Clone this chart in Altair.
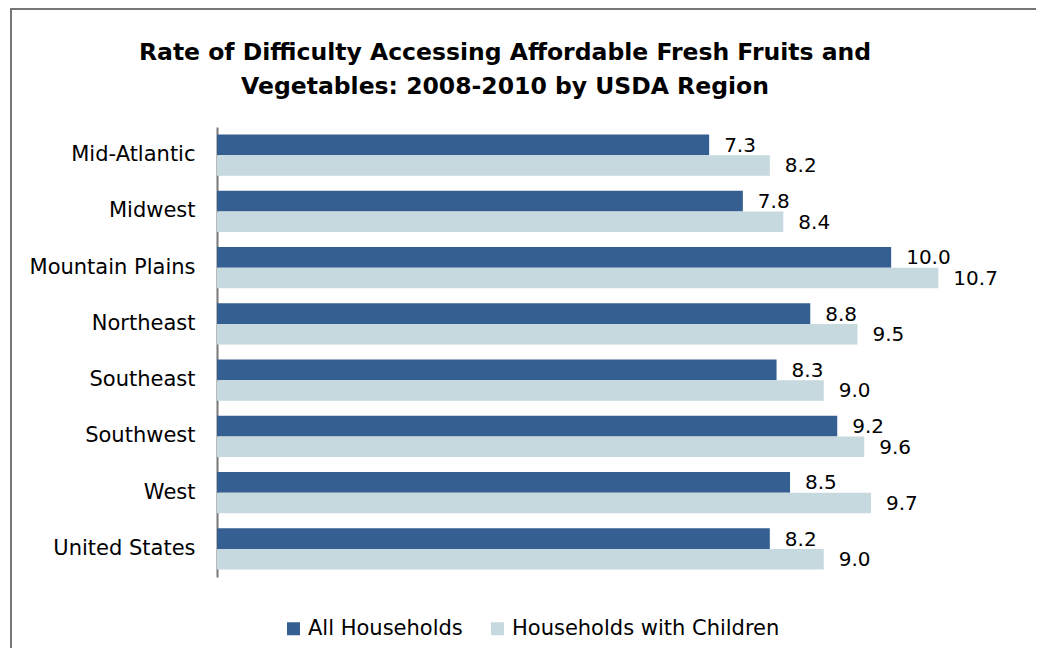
import altair as alt
import pandas as pd

regions = ["Mid-Atlantic", "Midwest", "Mountain Plains", "Northeast", "Southeast",
           "Southwest", "West", "United States"]
all_households = [7.3, 7.8, 10.0, 8.8, 8.3, 9.2, 8.5, 8.2]
with_children = [8.2, 8.4, 10.7, 9.5, 9.0, 9.6, 9.7, 9.0]
series = ["All Households", "Households with Children"]
colors = ["#365F91", "#C6D9DF"]
title_lines = ["Rate of Difficulty Accessing Affordable Fresh Fruits and",
               "Vegetables: 2008-2010 by USDA Region"]

rows = []
for r, a, c in zip(regions, all_households, with_children):
    rows.append({"region": r, "series": series[0], "value": a})
    rows.append({"region": r, "series": series[1], "value": c})
df = pd.DataFrame(rows)

FONT = "DejaVu Sans"
W, H = 809, 450
PL, PT = 209, 119
PR = 1028 - PL - W
PB = 640 - PT - H

y_enc = alt.Y("region:N", sort=regions,
              scale=alt.Scale(paddingInner=0.27, paddingOuter=0.135),
              axis=alt.Axis(title=None, ticks=False, labelFontSize=21, labelFont=FONT,
                            labelColor="#000000", labelPadding=22,
                            domainColor="#777777", domainWidth=2))
x_enc = alt.X("value:Q", scale=alt.Scale(domain=[0, 12], nice=False), axis=None)
yoff = alt.YOffset("series:N", sort=series)

base = alt.Chart(df)

bars = base.mark_bar().encode(
    y=y_enc, x=x_enc, yOffset=yoff,
    color=alt.Color("series:N", sort=series,
                    scale=alt.Scale(domain=series, range=colors),
                    legend=alt.Legend(title=None, orient="none", direction="horizontal",
                                      legendX=66, legendY=491, symbolType="square",
                                      symbolSize=169, symbolStrokeWidth=0,
                                      labelFontSize=21, labelFont=FONT, labelColor="#000000",
                                      labelOffset=4, labelLimit=500, columnPadding=24,
                                      padding=0)),
)

labels = base.mark_text(align="left", baseline="middle", dx=15, dy=1,
                        fontSize=20, font=FONT, color="#000000").encode(
    y=alt.Y("region:N", sort=regions), x="value:Q", yOffset=yoff,
    text=alt.Text("value:Q", format=".1f"),
)

title_df = pd.DataFrame({"line": title_lines, "idx": [0, 1]})
title = alt.Chart(title_df).mark_text(
    align="center", baseline="middle", fontSize=23.5, font=FONT, fontWeight="bold",
    color="#000000", clip=False
).transform_calculate(
    ypos="-74 + datum.idx * 34"
).encode(
    x=alt.value(288), y=alt.Y("ypos:Q", scale=None), text="line:N"
)

frame = alt.Chart(alt.Data(values=[{"k": 0}])).mark_rect(
    fill=None, stroke="#777777", strokeWidth=2, clip=False
).encode(
    x=alt.value(-206), y=alt.value(-118), x2=alt.value(3000), y2=alt.value(3000)
)

chart = alt.layer(frame, title, bars, labels).properties(
    width=W, height=H,
    autosize=alt.AutoSizeParams(type="none"),
    padding={"left": PL, "top": PT, "right": PR, "bottom": PB},
).configure_view(stroke=None)

chart.save("out.html", embed_options={"renderer": "svg", "actions": False})
